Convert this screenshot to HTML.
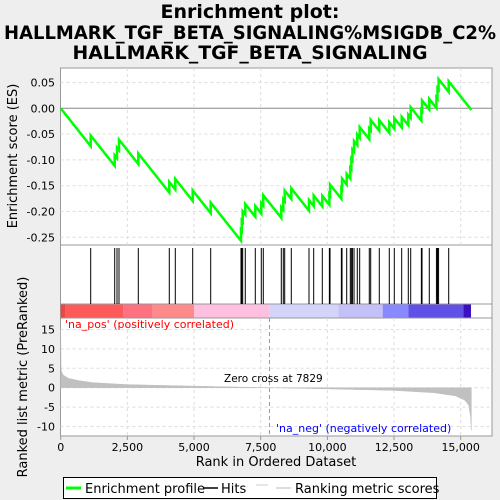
<!DOCTYPE html>
<html><head><meta charset="utf-8">
<style>
html,body{margin:0;padding:0;background:#eeeeee;}
svg{display:block;font-family:"DejaVu Sans","Liberation Sans",sans-serif;}
</style></head>
<body>
<svg id="chart" width="500" height="500" viewBox="0 0 500 500">
  <rect x="0" y="0" width="500" height="500" fill="#eeeeee"/>
  <g font-weight="bold" font-size="19" text-anchor="middle" fill="#000">
    <text x="250" y="18">Enrichment plot:</text>
    <text x="250" y="39" textLength="492" lengthAdjust="spacingAndGlyphs">HALLMARK_TGF_BETA_SIGNALING%MSIGDB_C2%</text>
    <text x="250" y="59" textLength="355" lengthAdjust="spacingAndGlyphs">HALLMARK_TGF_BETA_SIGNALING</text>
  </g>
  <rect x="60.5" y="68" width="431.5" height="177" fill="#fff" stroke="#999"/>
  <rect x="60.5" y="245" width="431.5" height="59" fill="#fff" stroke="#999"/>
  <rect x="60.5" y="304" width="431.5" height="14" fill="#fff" stroke="#999"/>
  <rect x="60.5" y="318" width="431.5" height="118" fill="#fff" stroke="#999"/>
  <g id="grid"></g>
  <g id="colorbar"></g>
  <g id="metric"></g>
  <g id="hits"></g>
  <g id="es"></g>
  <g id="axes" font-size="11" fill="#000"></g>
  <text x="17" y="156" transform="rotate(-90 17 156)" text-anchor="middle" font-size="13">Enrichment score (ES)</text>
  <text x="27" y="377" transform="rotate(-90 27 377)" text-anchor="middle" font-size="13">Ranked list metric (PreRanked)</text>
  <text x="276" y="466" text-anchor="middle" font-size="13">Rank in Ordered Dataset</text>
  <text x="65" y="328" font-size="11" fill="#ff0000">'na_pos' (positively correlated)</text>
  <text x="276" y="432" font-size="11" fill="#0000ff">'na_neg' (negatively correlated)</text>
  <text x="224" y="382" font-size="10.5" fill="#000">Zero cross at 7829</text>
  <g>
    <rect x="63.5" y="477.5" width="373" height="21" fill="#fff" stroke="#000"/>
    <line x1="66" y1="488" x2="81" y2="488" stroke="#00ff00" stroke-width="3"/>
    <text x="85" y="493" font-size="13">Enrichment profile</text>
    <line x1="204" y1="488" x2="218" y2="488" stroke="#000" stroke-width="1.5"/>
    <text x="221" y="493" font-size="13">Hits</text>
    <line x1="256" y1="485" x2="268" y2="485" stroke="#ccc"/>
    <line x1="276" y1="488" x2="291" y2="488" stroke="#bbb"/>
    <text x="295" y="493" font-size="13">Ranking metric scores</text>
  </g>
</svg>
<script>
const totalGenes = 15400;
const hitRanks = [1125,2025,2111,2186,2910,4072,4297,4950,5625,6761,6790,6825,6922,7297,7522,7597,8272,8347,8400,8647,9311,9487,9810,10075,10100,10525,10550,10725,10860,10900,10940,11000,11122,11212,11572,11625,11947,12322,12510,12787,13035,13125,13525,13550,13822,14090,14130,14170,14550];
const metricRanks = [0,15,40,100,300,700,1200,2500,5000,7829,10000,12500,14000,14800,15150,15300,15370,15400];
const metricValues = [15,5,4,3.2,2.4,1.8,1.3,0.8,0.4,0,-0.3,-0.7,-1.3,-2.1,-3.2,-4.5,-7.5,-11];
const esTicks = [0.05,0,-0.05,-0.1,-0.15,-0.2,-0.25];
const esTickLabels = ["0.05","0.00","-0.05","-0.10","-0.15","-0.20","-0.25"];
const metricTicks = [15,10,5,0,-5,-10];
const xTicks = [0,2500,5000,7500,10000,12500,15000];
const xTickLabels = ["0","2,500","5,000","7,500","10,000","12,500","15,000"];
const colorStops = [0,162,2350,3450,5000,7825,10412,12075,13037,15100,15387];
const colorSegments = ["#e84848","#ff5a5a","#ff7080","#ff8a8a","#ffc0e0","#d4d4fa","#c4c0f8","#8888ff","#6050e8","#3a10c0"];
const zeroCross = 7829;

const NS = "http://www.w3.org/2000/svg";
const xS = r => 60.7 + r * 400 / 15000;
const yES = v => 108.3 - v * 25.8 / 0.05;
const yM = v => 387.7 - v * 3.88;
function mk(tag, attrs, parent) {
  const e = document.createElementNS(NS, tag);
  for (const k in attrs) e.setAttribute(k, attrs[k]);
  parent.appendChild(e);
  return e;
}
const grid = document.getElementById('grid');
const axes = document.getElementById('axes');
xTicks.forEach((t, i) => {
  if (i > 0) {
    const g1 = mk('line', {x1: xS(t), x2: xS(t), y1: 68, y2: 245, stroke: '#ddd', 'stroke-dasharray': '3,3'}, grid);
    
    
    const g2 = mk('line', {x1: xS(t), x2: xS(t), y1: 318, y2: 436, stroke: '#ddd', 'stroke-dasharray': '3,3'}, grid);
    
    
  }
  const tk = mk('line', {x1: xS(t), x2: xS(t), y1: 436, y2: 440, stroke: '#999'}, axes);
  
  
  const tl = mk('text', {x: xS(t), y: 451, 'text-anchor': 'middle'}, axes);
  tl.textContent = xTickLabels[i];
  
  
});
esTicks.forEach((t, i) => {
  const gl = mk('line', {x1: 60.5, x2: 492, y1: yES(t), y2: yES(t), stroke: t === 0 ? '#888' : '#ddd', 'stroke-dasharray': t === 0 ? '' : '3,3'}, grid);
  
  
  const tl = mk('text', {x: 55, y: yES(t) + 4, 'text-anchor': 'end'}, axes);
  tl.textContent = esTickLabels[i];
  
  
});
metricTicks.forEach(t => {
  const gl = mk('line', {x1: 60.5, x2: 492, y1: yM(t), y2: yM(t), stroke: '#ddd', 'stroke-dasharray': '3,3'}, grid);
  
  
  const tl = mk('text', {x: 55, y: yM(t) + 4, 'text-anchor': 'end'}, axes);
  tl.textContent = String(t);
  
  
});
const cb = document.getElementById('colorbar');
colorSegments.forEach((c, i) => {
  const r = mk('rect', {x: xS(colorStops[i]), y: 304.5, width: xS(colorStops[i + 1]) - xS(colorStops[i]), height: 13, fill: c}, cb);
  
  
});
const mg = document.getElementById('metric');
let d = 'M' + xS(metricRanks[0]) + ' ' + yM(0);
metricRanks.forEach((r, i) => { d += ' L' + xS(r) + ' ' + yM(metricValues[i]); });
d += ' L' + xS(metricRanks[metricRanks.length - 1]) + ' ' + yM(0) + ' Z';
const area = mk('path', {d: d, fill: '#c0c0c0', stroke: '#c0c0c0', 'stroke-width': 0.5}, mg);


const zc = mk('line', {x1: xS(zeroCross), x2: xS(zeroCross), y1: 318, y2: 436, stroke: '#999', 'stroke-dasharray': '4,3'}, mg);


const hg = document.getElementById('hits');
hitRanks.forEach(r => {
  const l = mk('line', {x1: xS(r), x2: xS(r), y1: 248, y2: 304, stroke: '#000', 'stroke-width': 1}, hg);
  
  
});
const nh = hitRanks.length;
const up = 1 / nh, down = 1 / (totalGenes - nh);
let es = 0, prev = 0;
let pts = [[xS(0), yES(0)]];
hitRanks.forEach(r => {
  es -= (r - prev) * down;
  pts.push([xS(r), yES(es)]);
  es += up;
  pts.push([xS(r), yES(es)]);
  prev = r;
});
es -= (totalGenes - prev) * down;
pts.push([xS(totalGenes), yES(es)]);
const esLine = mk('polyline', {points: pts.map(p => p.join(',')).join(' '), fill: 'none', stroke: '#00ff00', 'stroke-width': 2.5}, document.getElementById('es'));


</script>
</body></html>
